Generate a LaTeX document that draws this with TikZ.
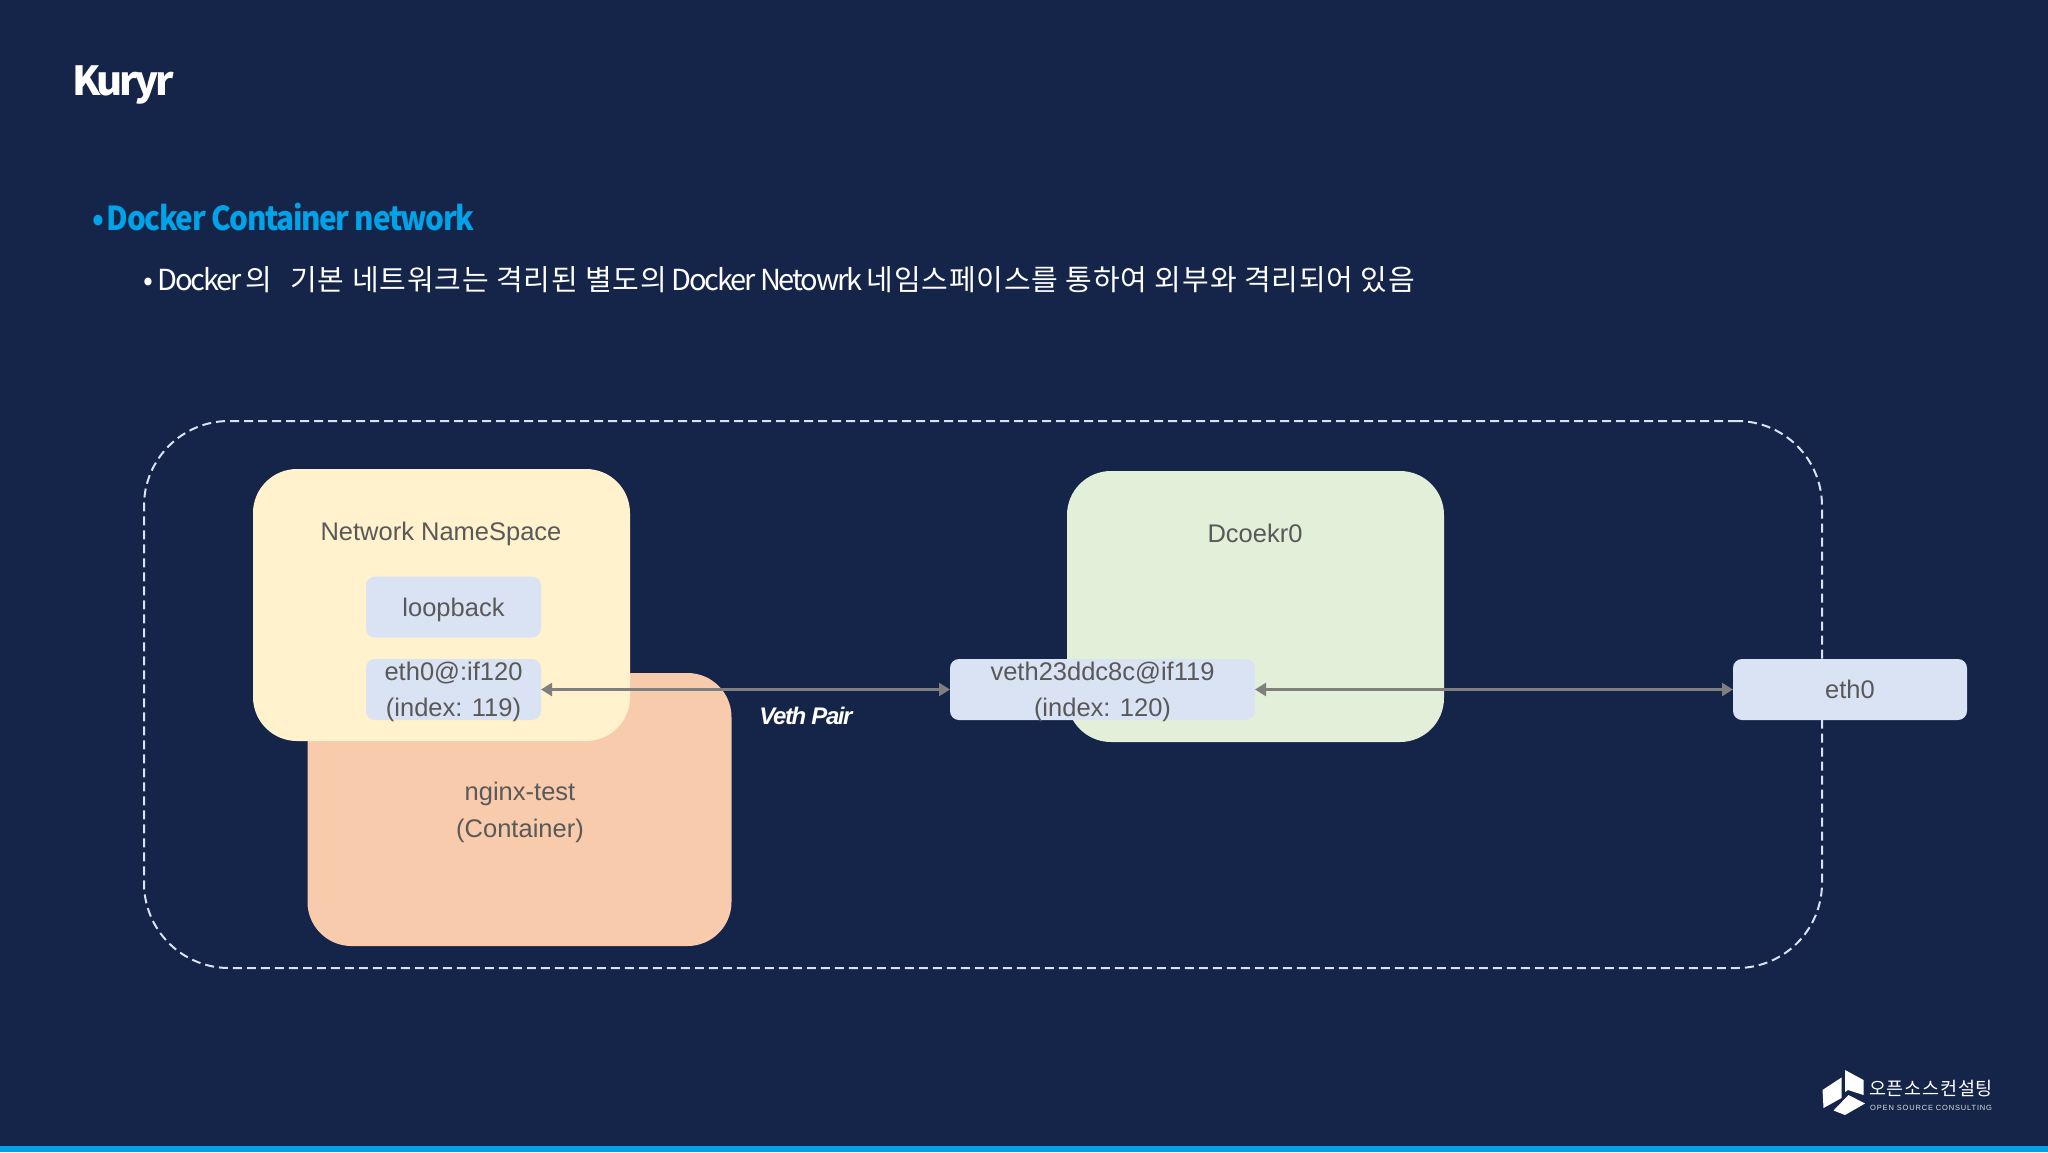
\documentclass[tikz,border=0pt]{standalone}
\usepackage{fontspec}
\setmainfont{Liberation Sans}
\newfontfamily\krfont{Noto Sans CJK KR}
\newfontfamily\krlat[LetterSpace=-7.5]{Noto Sans CJK KR}
\newfontfamily\krhan[LetterSpace=3]{Noto Sans CJK KR}
\newfontfamily\krtitle[LetterSpace=-8.5]{Noto Sans CJK KR}
\newfontfamily\krhead[LetterSpace=-4.2,FakeStretch=0.9]{Noto Sans CJK KR}
\newfontfamily\krlogo[LetterSpace=4]{Noto Sans CJK KR}
\usetikzlibrary{arrows.meta}
\definecolor{bgc}{HTML}{152449}
\definecolor{barc}{HTML}{00A0E4}
\definecolor{headc}{HTML}{00A3E8}
\definecolor{nsc}{HTML}{FFF2CC}
\definecolor{conc}{HTML}{F8CBAD}
\definecolor{brc}{HTML}{E2F0D9}
\definecolor{ifc}{HTML}{DAE3F3}
\definecolor{txtc}{HTML}{595959}
\definecolor{arrc}{HTML}{7F7F7F}
\tikzset{
  boxbase/.style={rectangle,inner sep=0pt,outer sep=0pt},
  bigbox/.style={boxbase,rounded corners=44pt},
  ifbox/.style={boxbase,fill=ifc,rounded corners=9pt,minimum height=61pt},
  lbl/.style={inner sep=0pt,text=txtc,align=center,font=\fontsize{25.5}{36.5}\selectfont},
  link/.style={draw=arrc,line width=2.4pt,{Triangle[length=11pt,width=13pt]}-{Triangle[length=11pt,width=13pt]},shorten <=0pt,shorten >=0pt},
  logoshape/.style={fill=white,draw=none}
}
\begin{document}
\begin{tikzpicture}[x=1pt,y=-1pt]
\useasboundingbox (0,0) rectangle (2048,1152);
\fill[bgc] (0,0) rectangle (2048,1152);
\fill[barc] (0,1146) rectangle (2048,1152);

% titles
\node[anchor=west,inner sep=0pt,text=white,font=\fontsize{40}{44}\selectfont\krtitle\bfseries] (title) at (72,85) {Kuryr};
\node[anchor=west,inner sep=0pt,text=headc,font=\fontsize{33}{38}\selectfont\krhead\bfseries] (head) at (92,217) {•\hspace{-2.5pt} Docker Container network};
\node[anchor=west,inner sep=0pt,text=white,font=\fontsize{29}{34}\selectfont\krlat] (sub) at (143,279.5) {• Docker {\krhan 의\hspace{10.5pt} 기본 네트워크는 격리된 별도의} Docker Netowrk {\krhan 네임스페이스를 통하여 외부와 격리되어 있음}};

% outer dashed boundary
\node[draw=ifc,line width=2pt,dash pattern=on 9pt off 5pt,rounded corners=85pt,minimum width=1678pt,minimum height=547pt,inner sep=0pt] (host) at (983,694.5) {};

% containers
\node[bigbox,fill=conc,minimum width=424pt,minimum height=273pt] (con) at (519.5,809.5) {};
\node[bigbox,fill=nsc,minimum width=377pt,minimum height=272pt] (ns) at (441.5,605) {};
\node[bigbox,fill=brc,minimum width=377pt,minimum height=271pt] (br) at (1255.5,606.5) {};

\node[lbl] (nslabel) at (441,533.5) {Network NameSpace};
\node[lbl] (conlabel) at (520,812.5) {nginx-test\\(Container)};
\node[lbl] (brlabel) at (1255,533.5) {Dcoekr0};

% interfaces
\node[ifbox,minimum width=175pt] (lo) at (453.5,607) {};
\node[ifbox,minimum width=175pt] (eth) at (453.5,689.5) {};
\node[ifbox,minimum width=305pt] (veth) at (1102.5,689.5) {};
\node[ifbox,minimum width=234pt] (ext) at (1850,689.5) {};
\node[lbl,yshift=-2.5pt] (lolabel) at (lo) {loopback};
\node[lbl,yshift=-2.5pt] (ethlabel) at (eth) {eth0@:if120\\(index: 119)};
\node[lbl,yshift=-2.5pt] (vethname) at (veth) {veth23ddc8c@if119\\(index: 120)};
\node[lbl] (extlabel) at (ext) {eth0};

% links
\draw[link] (eth.east) -- (veth.west);
\draw[link] (veth.east) -- (ext.west);
\node[inner sep=0pt,text=white,font=\fontsize{24}{28}\selectfont\bfseries\itshape\addfontfeature{LetterSpace=-6}] (vethlabel) at (806,716) {Veth Pair};

% logo
\fill[logoshape] (1822.5,1090) -- (1841.5,1077.5) -- (1841.5,1098) -- (1823.5,1108) -- cycle;
\fill[logoshape] (1845,1070) -- (1863.5,1080) -- (1863.5,1095) -- (1848,1090) -- (1845,1092) -- cycle;
\fill[logoshape] (1833.5,1110.5) -- (1848.5,1095) -- (1865,1103.5) -- (1845,1115) -- cycle;
\node[anchor=west,inner sep=0pt,text=white,font=\fontsize{18.5}{20}\selectfont\krlogo] (logokr) at (1869,1089) {오픈소스컨설팅};
\node[anchor=west,inner sep=0pt,text=white!85!bgc,font=\fontsize{7.5}{9}\selectfont\addfontfeature{LetterSpace=11}] (logoen) at (1870,1108) {OPEN SOURCE CONSULTING};
\end{tikzpicture}
\end{document}
